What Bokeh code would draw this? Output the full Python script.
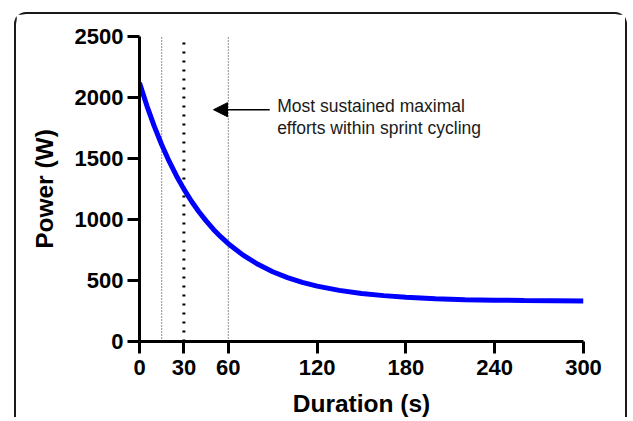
from bokeh.plotting import figure
from bokeh.models import Range1d, FixedTicker, Arrow, NormalHead, ColumnDataSource
from bokeh.core.properties import value
from bokeh.embed import file_html
from bokeh.resources import INLINE

# Power-duration curve
duration_s = [0, 5, 10, 15, 20, 25, 30, 35, 40, 45, 50, 55, 60, 70, 80, 90, 100,
              110, 120, 135, 150, 165, 180, 200, 220, 240, 260, 280, 300]
power_w = [2120, 1932, 1763, 1613, 1478, 1357, 1249, 1152, 1066, 989, 919, 857, 802,
           708, 633, 572, 524, 485, 454, 419, 394, 376, 363, 351, 343, 339, 336, 334, 332]

x_ticks = [0, 30, 60, 120, 180, 240, 300]
y_ticks = [0, 500, 1000, 1500, 2000, 2500]

thin_lines_x = [15, 60]
thick_line_x = [30]
line_top = [2500]

arrow_x_start = 88
arrow_x_end = 50
arrow_y = 1900
note_x = [93, 93]
note_y = [1932, 1754]
note_text = ["Most sustained maximal", "efforts within sprint cycling"]

FONT = "Liberation Sans"

p = figure(width=613, height=405, output_backend="svg", toolbar_location=None,
           x_range=Range1d(0, 300), y_range=Range1d(0, 2500),
           min_border_left=123, min_border_right=46, min_border_top=22, min_border_bottom=10)
p.margin = (12, 0, 0, 14)
p.styles = {"border-top": "2px solid #1a1a1a", "border-left": "2px solid #1a1a1a",
            "border-right": "2px solid #1a1a1a", "border-radius": "12px 12px 0 0"}

p.xgrid.visible = False
p.ygrid.visible = False
p.outline_line_color = None
p.background_fill_color = "white"
p.border_fill_color = "white"

# reference lines
p.segment(x0=thin_lines_x, y0=[0] * len(thin_lines_x), x1=thin_lines_x, y1=line_top * len(thin_lines_x),
          line_color="#222222", line_width=1, line_dash="1 2")
p.segment(x0=thick_line_x, y0=[0], x1=thick_line_x, y1=line_top,
          line_color="black", line_width=3, line_dash="2 7")

# curve
p.line(duration_s, power_w, line_color="#0000FF", line_width=5)

# arrow and note
p.add_layout(Arrow(end=NormalHead(size=14, fill_color="black", line_color="black"),
                   x_start=arrow_x_start, y_start=arrow_y, x_end=arrow_x_end, y_end=arrow_y,
                   line_color="black", line_width=1.5))
src = ColumnDataSource(dict(x=note_x, y=note_y, t=note_text))
p.text(x="x", y="y", text="t", source=src, text_font=value(FONT), text_font_size="17.5px",
       text_color="#1a1a1a", text_baseline="alphabetic", text_align="left")

for ax in (p.xaxis[0], p.yaxis[0]):
    ax.axis_line_width = 3
    ax.axis_line_color = "black"
    ax.major_tick_line_width = 3
    ax.major_tick_line_color = "black"
    ax.major_tick_in = 0
    ax.major_tick_out = 12
    ax.minor_tick_line_color = None
    ax.major_label_text_font = FONT
    ax.major_label_text_font_style = "bold"
    ax.major_label_text_font_size = "22px"
    ax.major_label_text_color = "black"
    ax.axis_label_text_font = FONT
    ax.axis_label_text_font_style = "bold"
    ax.axis_label_text_font_size = "24.5px"
    ax.axis_label_text_color = "black"

p.xaxis.ticker = FixedTicker(ticks=x_ticks)
p.yaxis.ticker = FixedTicker(ticks=y_ticks)
p.xaxis.axis_label = "Duration (s)"
p.yaxis.axis_label = "Power (W)"
p.xaxis.major_label_standoff = 6
p.xaxis.axis_label_standoff = 12
p.yaxis.major_label_standoff = 4
p.yaxis.axis_label_standoff = 14

open("out.html", "w").write(file_html(p, INLINE))
